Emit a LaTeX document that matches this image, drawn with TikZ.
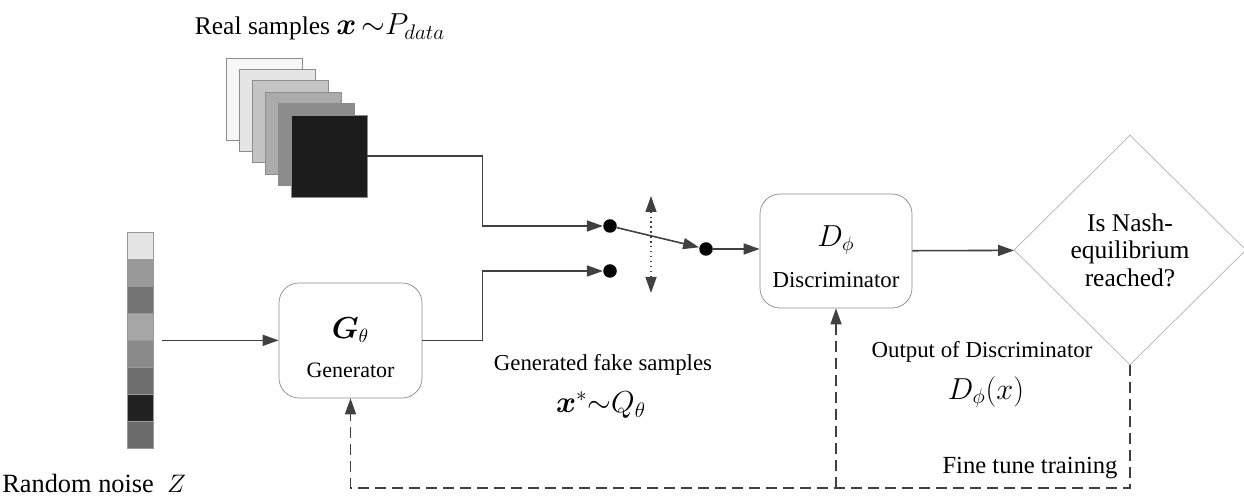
\documentclass[tikz,border=0pt]{standalone}
\usepackage{fontspec}
\newfontfamily\libserif{Liberation Serif}
\usepackage{amsmath}
\usepackage{tikz}
\usetikzlibrary{shapes.geometric, arrows.meta, positioning, calc}

\begin{document}
\begin{tikzpicture}[
    node distance=0.8cm,
    block/.style={rectangle, draw=black!45, rounded corners=0.4cm, fill=white, minimum width=2.86cm, minimum height=2.3cm},
    decision/.style={diamond, draw=black!30, minimum width=4.64cm, minimum height=4.6cm, inner sep=0pt, align=center, font=\libserif\fontsize{14.5}{15.6}\selectfont},
    sample/.style={rectangle, draw=black!45, minimum width=1.52cm, minimum height=1.64cm, inner sep=0pt},
    noisecell/.style={rectangle, draw=black!40, minimum width=0.52cm, minimum height=0.54cm, inner sep=0pt},
    dot/.style={circle, fill=black, minimum size=0.27cm, inner sep=0pt},
    note/.style={inner sep=0pt, font=\libserif\fontsize{13}{15}\selectfont},
    bignote/.style={inner sep=0pt, font=\fontsize{17}{19}\selectfont},
    arrow/.style={-{Triangle[length=3.2mm, width=2.2mm]}, draw=black!75, line width=0.9pt},
    feedback/.style={arrow, dash pattern=on 0.22cm off 0.12cm}
]
\useasboundingbox (0,0) rectangle (24.88,9.94);

% Real samples
\foreach \i/\shade in {0/3,1/10,2/23,3/33,4/45,5/89}
  \node[sample, fill=black!\shade] (real\i) at ({5.28+0.26*\i},{7.96-0.228*\i}) {};
\node[note, font=\libserif\fontsize{14.5}{16}\selectfont] (realtxt) at (6.4,9.40) {Real samples {\fontsize{17}{19}\selectfont$\boldsymbol{x}\,{\sim}P_{data}$}};

% Random noise
\foreach \i/\shade in {0/10,1/40,2/55,3/35,4/46,5/57,6/87,7/58}
  \node[noisecell, fill=black!\shade] (z\i) at (2.8,{5.30-0.54*(\i+0.5)}) {};
\node[note, font=\libserif\fontsize{15}{17}\selectfont, anchor=west] (noisetxt) at (0.04,0.27) {Random noise\ \ $Z$};
\coordinate (zout) at ([xshift=0.18cm]z3.south east);

% Generator and discriminator
\node[block] (gen) at (7.01,3.13) {};
\node[inner sep=0pt, font=\fontsize{16}{18}\selectfont] (gentitle) at ([yshift=0.21cm]gen.center) {$\boldsymbol{G}_{\theta}$};
\node[note, font=\libserif\fontsize{12.5}{14}\selectfont] (gentext) at ([yshift=-0.59cm]gen.center) {Generator};

\node[block, minimum width=3.04cm, minimum height=2.28cm] (disc) at (16.72,4.92) {};
\node[inner sep=0pt, font=\fontsize{16}{18}\selectfont] (disctitle) at ([yshift=0.22cm]disc.center) {$D_{\phi}$};
\node[note] (disctext) at ([yshift=-0.58cm]disc.center) {Discriminator};

\node[decision] (nash) at (22.6,4.94) {Is Nash-\\equilibrium\\reached?};

% Switch
\node[dot] (top) at (12.2,5.42) {};
\node[dot] (bot) at (12.2,4.52) {};
\node[dot] (mid) at (14.12,4.96) {};
\coordinate (swup) at (13.02,6.02);
\coordinate (swdown) at (13.02,4.08);

% Labels
\node[note] (fake) at (12.06,2.64) {Generated fake samples};
\node[bignote] (fakemath) at (12.02,1.84) {$\boldsymbol{x}^{*}{\sim}Q_{\theta}$};
\node[note] (outtxt) at (19.64,2.90) {Output of Discriminator};
\node[bignote] (outmath) at (19.72,2.10) {$D_{\phi}(x)$};
\node[note, font=\libserif\fontsize{14}{16}\selectfont] (finetxt) at (20.6,0.58) {Fine tune training};
\coordinate (fb) at (22.6,0.18);

% Arrows
\draw[arrow] (zout) -- (gen.west |- zout);
\draw[arrow] (real5.east) -- ++(2.3,0) |- (top);
\draw[arrow] (gen.east) -- ++(1.2,0) |- (bot);
\draw[arrow] (top) -- (mid);
\draw[{Triangle[length=3.2mm, width=2.2mm]}-{Triangle[length=3.2mm, width=2.2mm]}, draw=black!75, line width=0.8pt, dotted] (swup) -- (swdown);
\draw[arrow] (mid) -- (mid -| disc.west);
\draw[arrow] (disc) -- (nash);
\draw[feedback] (nash.south) -- (fb) -| (gen.south);
\draw[feedback] (fb -| disc.south) -- (disc.south);

\end{tikzpicture}
\end{document}
